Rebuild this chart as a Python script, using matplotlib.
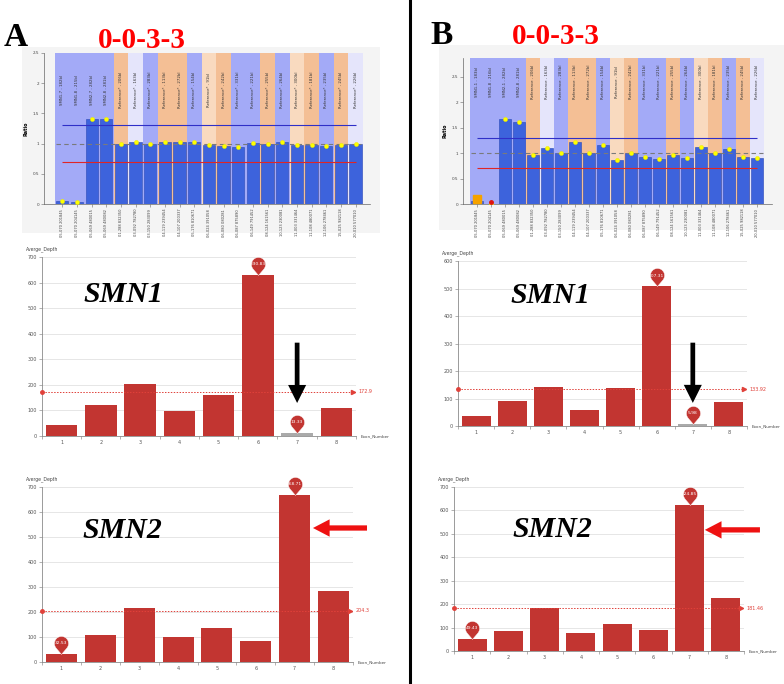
import numpy as np
import matplotlib
matplotlib.use('Agg')
import matplotlib.pyplot as plt
from matplotlib.path import Path
from matplotlib.lines import Line2D
from matplotlib.patches import Rectangle

W, H = 784, 684

# --- ratio (MLPA-like) panels ---
probe_names_a = ['SMN1-7 - 182bl', 'SMN1-8 - 215bl', 'SMN2-7 - 282bl', 'SMN2-8 - 281bl',
                 'Reference* - 206bl', 'Reference* - 163bl', 'Reference* - 283bl',
                 'Reference* - 113bl', 'Reference* - 272bl', 'Reference* - 154bl',
                 'Reference* - 91bl', 'Reference* - 242bl', 'Reference* - 331bl',
                 'Reference* - 221bl', 'Reference* - 255bl', 'Reference* - 264bl',
                 'Reference* - 300bl', 'Reference* - 181bl', 'Reference* - 235bl',
                 'Reference* - 245bl', 'Reference* - 226bl']
probe_names_b = ['SMN1-1 - 183bl', 'SMN1-8 - 216bl', 'SMN2-1 - 282bl', 'SMN2-8 - 281bl',
                 'Reference - 206bl', 'Reference - 163bl', 'Reference - 283bl',
                 'Reference - 113bl', 'Reference - 272bl', 'Reference - 154bl',
                 'Reference - 91bl', 'Reference - 242bl', 'Reference - 331bl',
                 'Reference - 221bl', 'Reference - 255bl', 'Reference - 264bl',
                 'Reference - 300bl', 'Reference - 181bl', 'Reference - 235bl',
                 'Reference - 245bl', 'Reference - 226bl']
probe_pos = ['05-070 201845', '05-070 204145', '05-069 480015', '05-069 480082',
             '01-288 832350', '03-092 782780', '03-150 283099', '04-119 239454',
             '04-107 200337', '05-176 810671', '06-024 391058', '06-080 080281',
             '06-087 875890', '06-149 791452', '08-124 161561', '10-123 230081',
             '11-003 331464', '11-108 480071', '12-106 278461', '15-025 982118',
             '20-010 577010']
col_kind = ['b', 'b', 'b', 'b', 'o', 'l', 'b', 'o', 'o', 'b', 'p',
            'o', 'b', 'b', 'o', 'b', 'p', 'o', 'b', 'o', 'l']
ratio_a = [0.05, 0.03, 1.40, 1.40, 1.00, 1.02, 1.00, 1.02, 1.03, 1.02, 0.98,
           0.96, 0.94, 1.01, 1.00, 1.02, 0.98, 0.97, 0.96, 0.98, 1.00]
ratio_b = [0.05, 0.00, 1.67, 1.61, 0.97, 1.10, 1.01, 1.22, 1.01, 1.15, 0.87,
           1.01, 0.92, 0.89, 0.97, 0.91, 1.12, 1.00, 1.09, 0.93, 0.90]
upper_limit = 1.3
lower_limit = 0.7

# --- exon depth panels ---
exons = [1, 2, 3, 4, 5, 6, 7, 8]
smn1_a = [44, 120, 204, 99, 162, 630.83, 13.33, 111]
smn2_a = [32.53, 107, 215, 100, 138, 86, 668.71, 283]
smn1_b = [36, 90, 143, 60, 140, 507.31, 5.98, 89]
smn2_b = [49.43, 85, 185, 78, 114, 91, 624.85, 228]
mean_smn1_a = 172.9
mean_smn2_a = 204.3
mean_smn1_b = 133.92
mean_smn2_b = 181.46

BG = {'b': '#a3aaf7', 'o': '#f4bf95', 'l': '#e5e5fb', 'p': '#f9dabf'}
BAR_BLUE = '#3d63dc'
RED = '#c23531'
MEAN_RED = '#e0413a'
SERIF = 'Liberation Serif'


def px_axes(fig, left, top, right, bottom):
    return fig.add_axes([left / W, 1 - bottom / H, (right - left) / W, (bottom - top) / H])


def ratio_panel(ax, vals, names, ymax, xlim, label_y, first_markers=None):
    x = np.arange(1, len(vals) + 1)
    ax.set_facecolor('none')
    for xi, kind in zip(x, col_kind):
        ax.axvspan(xi - 0.5, xi + 0.5, color=BG[kind], lw=0, zorder=0)
    ax.bar(x, vals, width=0.84, color=BAR_BLUE, edgecolor='#2a48b5', lw=0.4, zorder=2)
    ax.hlines(1.0, 0.6, len(vals) + 0.4, color='#7a7a7a', ls=(0, (4, 3)), lw=0.8, zorder=3)
    ax.hlines(upper_limit, 1, len(vals), color='#2f2fc8', lw=0.8, zorder=3)
    ax.hlines(lower_limit, 1, len(vals), color='#e02525', lw=0.8, zorder=3)
    ax.plot(x, vals, 'o', ms=3, color='#ffff00', mec='#e8e800', mew=0.3, zorder=4)
    if first_markers:
        for i, (mk, c, ms) in enumerate(first_markers):
            ax.plot(x[i], vals[i] + 0.04, mk, ms=ms, color=c, zorder=5, clip_on=False)
    for xi, name in zip(x, names):
        ax.text(xi, label_y, name, rotation=90, fontsize=2.8, ha='center', va='center',
                color='#333333', zorder=4)
    ax.set_xlim(*xlim)
    ax.set_ylim(0, ymax)
    ax.set_yticks([0, 0.5, 1, 1.5, 2, 2.5])
    ax.set_yticklabels(['0', '0.5', '1', '1.5', '2', '2.5'], fontsize=3, color='#444444')
    ax.set_xticks(x)
    ax.set_xticklabels(probe_pos, rotation=90, fontsize=2.6, color='#444444')
    ax.tick_params(length=2, width=0.4, pad=1.5, color='#666666')
    for s in ['top', 'right']:
        ax.spines[s].set_visible(False)
    for s in ['left', 'bottom']:
        ax.spines[s].set_linewidth(0.5)
        ax.spines[s].set_color('#666666')
    ax.set_ylabel('Ratio', fontsize=3.5, fontweight='bold', labelpad=3)


def pin_path():
    c = 1.55
    ang = np.degrees(np.arccos(1 / c))
    arc = Path.arc(-90 + ang, 270 - ang)
    verts = np.vstack([[0, 0], arc.vertices + [0, c], [0, 0]])
    codes = [Path.MOVETO, Path.LINETO] + list(arc.codes[1:]) + [Path.CLOSEPOLY]
    return Path(verts, codes)


PIN = pin_path()


def add_pin(ax, x, v, ms=26):
    ax.plot(x, v, marker=PIN, ms=ms, color=RED, mec='white', mew=0.3, zorder=5, clip_on=False)
    dy = 1.55 * ms * 0.5 / 2.55
    ax.annotate(f'{v:g}', (x, v), xytext=(0, dy), textcoords='offset points',
                ha='center', va='center', fontsize=3.2, color='white', zorder=6)


def depth_panel(ax, vals, ymax, mean, gene, gene_pos, gray_min=False):
    x = np.array(exons)
    vals = np.array(vals)
    colors = [RED] * len(vals)
    imin, imax = int(np.argmin(vals)), int(np.argmax(vals))
    if gray_min:
        colors[imin] = '#aaaaaa'
    ax.bar(x, vals, width=0.8, color=colors, zorder=2)
    ax.set_xlim(0.5, 8.5)
    ax.set_ylim(0, ymax)
    ax.set_yticks(np.arange(0, ymax + 1, 100))
    ax.yaxis.set_major_formatter(plt.FuncFormatter(lambda v, p: f'{v:.0f}'))
    ax.grid(axis='y', color='#e6e6e6', lw=0.7)
    ax.set_axisbelow(True)
    ax.set_xticks(x)
    ax.set_xticks(np.arange(0.5, 9, 1), minor=True)
    ax.tick_params(axis='x', which='major', length=0, labelsize=3.5, labelcolor='#555555', pad=3)
    ax.tick_params(axis='x', which='minor', length=2, width=0.4, color='#777777')
    ax.tick_params(axis='y', length=2, width=0.4, color='#777777', labelsize=3.5,
                   labelcolor='#555555', pad=1.5)
    for s in ['top', 'right']:
        ax.spines[s].set_visible(False)
    for s in ['left', 'bottom']:
        ax.spines[s].set_linewidth(0.6)
        ax.spines[s].set_color('#8a8a8a')
    ax.annotate('Averge_Depth', (0, 1), xycoords='axes fraction', xytext=(0, 6),
                textcoords='offset points', ha='center', va='center', fontsize=3.3, color='#444444')
    ax.annotate('Exon_Number', (1, 0), xycoords='axes fraction', xytext=(3, 0),
                textcoords='offset points', ha='left', va='center', fontsize=3.0, color='#444444')
    # mean line
    ax.axhline(mean, color=MEAN_RED, ls=(0, (1.5, 1.5)), lw=0.7, zorder=3)
    ax.plot(0.5, mean, 'o', ms=2.5, color=MEAN_RED, clip_on=False, zorder=4)
    ax.plot(8.43, mean, '>', ms=3, color=MEAN_RED, clip_on=False, zorder=4)
    ax.annotate(f'{mean:g}', (8.5, mean), xytext=(2, 0), textcoords='offset points',
                ha='left', va='center', fontsize=3.5, color=MEAN_RED)
    add_pin(ax, x[imax], vals[imax])
    add_pin(ax, x[imin], vals[imin])
    ax.text(gene_pos[0], gene_pos[1], gene, transform=ax.transAxes, ha='center', va='center',
            fontsize=21.5, fontweight='bold', fontstyle='italic', family=SERIF, color='black')


def down_arrow(ax, x, y_tail, y_tip):
    ax.annotate('', xy=(x, y_tip), xytext=(x, y_tail), annotation_clip=False,
                arrowprops=dict(arrowstyle='simple,head_width=13,head_length=13,tail_width=3.4',
                                mutation_scale=1, color='black', lw=0, shrinkA=0, shrinkB=0))


def left_arrow(ax, x_tail, x_tip, y):
    ax.annotate('', xy=(x_tip, y), xytext=(x_tail, y), annotation_clip=False,
                arrowprops=dict(arrowstyle='simple,head_width=12.5,head_length=12,tail_width=3.8',
                                mutation_scale=1, color='#ee1111', lw=0, shrinkA=0, shrinkB=0))


fig = plt.figure(figsize=(W / 100, H / 100), dpi=100)

# light gray frames behind the ratio plots
for x0, y0, x1, y1 in [(22, 47, 380, 233), (439, 45, 784, 230)]:
    fig.add_artist(Rectangle((x0 / W, 1 - y1 / H), (x1 - x0) / W, (y1 - y0) / H,
                             transform=fig.transFigure, color='#f4f4f4', lw=0, zorder=-1))

ax_ra = px_axes(fig, 44, 53, 370, 204)
ratio_panel(ax_ra, ratio_a, probe_names_a, 2.5, (-0.25, 21.98), 1.89)
ax_rb = px_axes(fig, 463, 58, 772, 204)
ratio_panel(ax_rb, ratio_b, probe_names_b, 2.87, (0.0, 22.07), 2.40,
            first_markers=[('s', '#f5a200', 5.5), ('o', '#dd1111', 2.5)])

ax1a = px_axes(fig, 42, 257, 356, 436)
depth_panel(ax1a, smn1_a, 700, mean_smn1_a, 'SMN1', (0.26, 0.79), gray_min=True)
down_arrow(ax1a, 7, 365, 129)

ax2a = px_axes(fig, 42, 487, 353, 662)
depth_panel(ax2a, smn2_a, 700, mean_smn2_a, 'SMN2', (0.26, 0.75))
left_arrow(ax2a, 8.86, 7.47, 536)

ax1b = px_axes(fig, 458, 261, 747, 426)
depth_panel(ax1b, smn1_b, 600, mean_smn1_b, 'SMN1', (0.32, 0.79), gray_min=True)
down_arrow(ax1b, 7, 303, 84)

ax2b = px_axes(fig, 454, 487, 744, 651)
depth_panel(ax2b, smn2_b, 700, mean_smn2_b, 'SMN2', (0.34, 0.74))
left_arrow(ax2b, 8.94, 7.42, 517)

# panel letters and genotype titles
fig.text(4 / W, 1 - 38 / H, 'A', fontsize=24, fontweight='bold', family=SERIF, va='center')
fig.text(142 / W, 1 - 40 / H, '0-0-3-3', fontsize=21, fontweight='bold', family=SERIF,
         color='#ff0000', ha='center', va='center')
fig.text(430 / W, 1 - 36 / H, 'B', fontsize=24, fontweight='bold', family=SERIF, va='center')
fig.text(556 / W, 1 - 37 / H, '0-0-3-3', fontsize=21, fontweight='bold', family=SERIF,
         color='#ff0000', ha='center', va='center')

# divider between A and B
fig.add_artist(Line2D([410 / W, 410 / W], [0, 1], transform=fig.transFigure,
                      color='black', lw=2.2))

fig.savefig('out.png', dpi=100)
